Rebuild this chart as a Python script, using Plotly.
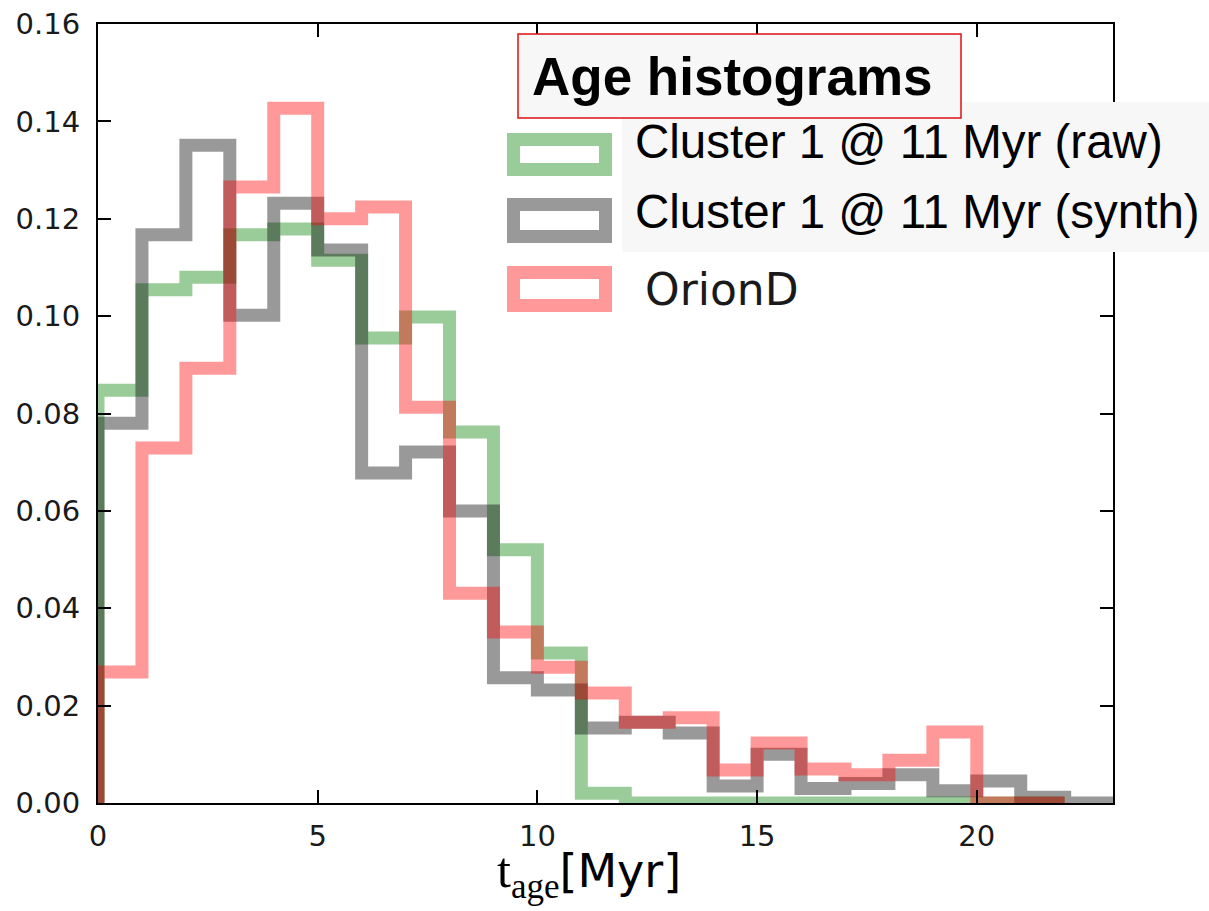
import plotly.graph_objects as go

# Age histograms (normalised counts per 1 Myr bin)
bin_width = 1.0
raw_vals = [0.0848, 0.1054, 0.1080, 0.1167, 0.1179, 0.1115, 0.0955, 0.0998, 0.0762,
            0.0520, 0.0308, 0.0020, 0.0, 0.0, 0.0, 0.0, 0.0, 0.0, 0.0, 0.0, 0.0, 0.0]
synth_vals = [0.0780, 0.1167, 0.1351, 0.1002, 0.1232, 0.1136, 0.0678, 0.0721, 0.0600,
              0.0257, 0.0232, 0.0154, 0.0166, 0.0144, 0.0035, 0.0100, 0.0030, 0.0040,
              0.0058, 0.0025, 0.0045, 0.0012, 0.0, 0.0]
orion_vals = [0.0269, 0.0729, 0.0893, 0.1265, 0.1427, 0.1200, 0.1224, 0.0813, 0.0431,
              0.0351, 0.0279, 0.0226, 0.0166, 0.0175, 0.0068, 0.0123, 0.0070, 0.0058,
              0.0088, 0.0146, 0.0, 0.0]

series_names = ["Cluster 1 @ 11 Myr (raw)", "Cluster 1 @ 11 Myr (synth)", "OrionD"]
series_colors = ["rgba(0,128,0,0.4)", "rgba(0,0,0,0.4)", "rgba(255,0,0,0.4)"]

x_ticks = [0, 5, 10, 15, 20]
y_ticks = [0.00, 0.02, 0.04, 0.06, 0.08, 0.10, 0.12, 0.14, 0.16]

W, H = 1209, 911
ML, MR, MT, MB = 98, 96, 24, 108
PW, PH = W - ML - MR, H - MT - MB


def px(xp):
    return (xp - ML) / PW


def py(yp):
    return (H - MB - yp) / PH


def step_outline(values):
    """Closed step outline of a histogram (histtype='step')."""
    edges = [i * bin_width for i in range(len(values) + 1)]
    xs = [edges[0]] + edges[:-1] + [edges[-1]]
    ys = [0.0] + list(values) + [0.0]
    return xs, ys


fig = go.Figure()
for vals, name, col in zip([raw_vals, synth_vals, orion_vals], series_names, series_colors):
    xs, ys = step_outline(vals)
    fig.add_trace(go.Scatter(
        x=xs, y=ys, mode="lines", name=name,
        line=dict(color=col, width=13, shape="hv"),
        showlegend=False, hoverinfo="skip",
    ))

axis_common = dict(
    showline=True, linewidth=2, linecolor="black", mirror="ticks",
    ticks="inside", ticklen=13, tickwidth=1.5, tickcolor="black",
    showgrid=False, zeroline=False,
    tickfont=dict(family="DejaVu Sans", size=29, color="#1a1a1a"),
)

fig.update_xaxes(range=[0, 23.1], tickvals=x_ticks, ticklabelstandoff=6, **axis_common)
fig.update_yaxes(range=[0, 0.16], tickvals=y_ticks, tickformat=".2f",
                 ticklabelstandoff=10, **axis_common)

shapes = []
# legend background panel
shapes.append(dict(type="rect", xref="paper", yref="paper", layer="above",
                   x0=px(622), x1=px(1209), y0=py(252), y1=py(102),
                   fillcolor="#f7f7f7", line=dict(width=0)))
# title box
shapes.append(dict(type="rect", xref="paper", yref="paper", layer="above",
                   x0=px(518), x1=px(961), y0=py(118), y1=py(34),
                   fillcolor="#f7f7f7", line=dict(color="#e01010", width=1.5)))
# legend swatches (outlined patches)
for (top, bot), col in zip([(133, 176), (198, 243), (266, 312)], series_colors):
    shapes.append(dict(type="rect", xref="paper", yref="paper", layer="above",
                       x0=px(507 + 6.5), x1=px(612 - 6.5),
                       y0=py(bot - 6.5), y1=py(top + 6.5),
                       fillcolor="rgba(0,0,0,0)", line=dict(color=col, width=13)))

annotations = [
    dict(text="<b>Age histograms</b>", x=px(530), y=py(77), xref="paper", yref="paper",
         xanchor="left", yanchor="middle", showarrow=False,
         font=dict(family="Liberation Sans", size=53, color="black")),
    dict(text=series_names[0], x=px(633), y=py(141), xref="paper", yref="paper",
         xanchor="left", yanchor="middle", showarrow=False,
         font=dict(family="Liberation Sans", size=47.5, color="black")),
    dict(text=series_names[1], x=px(633), y=py(211), xref="paper", yref="paper",
         xanchor="left", yanchor="middle", showarrow=False,
         font=dict(family="Liberation Sans", size=47.5, color="black")),
    dict(text=series_names[2], x=px(643), y=py(289), xref="paper", yref="paper",
         xanchor="left", yanchor="middle", showarrow=False,
         font=dict(family="DejaVu Sans", size=44, color="#1a1a1a")),
    dict(text="<span style=\"font-family:'Liberation Serif';font-size:50px\">t<sub>age</sub></span>[Myr]",
         x=px(589), y=py(874), xref="paper", yref="paper",
         xanchor="center", yanchor="middle", showarrow=False,
         font=dict(family="DejaVu Sans", size=46, color="black")),
]

fig.update_layout(
    width=W, height=H,
    margin=dict(l=ML, r=MR, t=MT, b=MB, autoexpand=False),
    paper_bgcolor="white", plot_bgcolor="white",
    shapes=shapes, annotations=annotations,
)

fig.write_html("out.html")
